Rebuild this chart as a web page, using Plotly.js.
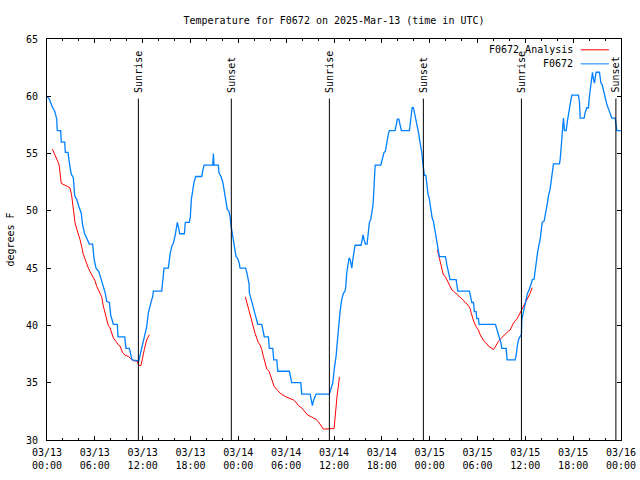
<!DOCTYPE html>
<html>
<head>
<meta charset="utf-8">
<script src="https://cdn.plot.ly/plotly-3.0.1.min.js"></script>
<style>html,body{margin:0;padding:0;background:#fff;}#chart{width:640px;height:480px;}</style>
</head>
<body>
<div id="chart"></div>
<script>
// Hours since 2025-03-13 00:00 UTC
var blueH = [0,0.29,0.72,0.97,1.22,1.29,1.72,1.79,2.22,2.30,2.63,2.72,2.89,3.05,3.30,3.48,3.73,3.98,4.30,4.48,4.73,4.98,5.31,5.73,5.90,6.15,6.49,6.81,7.06,7.31,7.49,7.82,7.99,8.32,8.82,8.91,9.75,9.91,10.33,10.58,10.66,11.51,11.67,12.08,12.30,12.51,12.71,12.92,13.14,13.26,13.34,14.39,14.52,14.68,15.22,15.31,15.43,15.65,15.85,16.06,16.27,16.35,16.52,16.65,17.23,17.35,17.85,17.98,18.11,18.28,18.44,18.66,19.41,19.54,19.70,20.79,20.87,20.95,21.49,21.58,21.83,22.05,22.21,22.46,22.62,22.80,22.96,23.09,23.25,23.38,23.59,23.71,23.88,24.09,24.22,24.93,25.13,25.26,25.35,25.38,25.56,25.72,25.88,26.10,26.31,26.44,26.94,27.06,27.26,27.77,27.89,28.32,28.44,28.82,28.95,30.40,30.58,30.70,31.83,31.96,33.00,33.16,33.29,33.41,33.75,35.42,35.63,35.85,36.05,36.26,36.42,36.60,36.76,36.98,37.18,37.39,37.48,37.60,37.77,37.89,38.02,38.11,38.23,38.36,38.52,38.64,39.40,39.52,39.65,39.77,39.94,40.15,40.31,40.44,40.61,40.74,40.87,40.94,41.07,41.16,41.87,42.00,42.12,42.28,42.45,42.53,42.70,42.82,42.95,43.66,43.79,43.95,44.13,44.20,44.38,44.45,45.46,45.58,45.71,45.80,45.96,46.09,46.21,46.39,46.51,46.64,46.76,46.89,47.01,47.14,47.21,47.34,47.52,47.59,47.68,47.80,47.93,48.06,48.18,48.31,48.47,48.65,48.81,48.97,49.10,49.22,49.40,49.98,50.15,50.31,50.48,50.56,51.32,51.44,51.53,52.99,53.16,53.29,53.49,53.61,53.83,53.91,54.12,54.20,56.25,56.42,56.59,56.75,56.93,57.05,57.59,57.72,58.72,58.85,58.97,59.14,59.31,59.51,59.56,59.76,59.89,60.06,60.26,60.48,60.69,60.89,61.10,61.23,61.36,61.52,61.64,61.86,61.98,62.11,62.36,62.48,62.61,62.77,62.90,63.11,63.24,63.36,63.53,64.28,64.37,64.49,64.58,64.71,64.78,64.91,65.12,65.28,65.41,65.62,65.83,66.66,66.79,66.88,67.38,67.50,67.72,67.92,68.04,68.22,68.42,68.54,68.67,68.76,68.88,69.30,69.47,69.64,69.80,70.01,70.22,70.43,70.64,70.85,71.27,71.39,71.48,72.0];
var blueT = [60.0,59.75,59.0,58.7,58.0,57.0,57.0,56.0,56.0,55.1,55.1,54.5,53.8,53.2,52.9,51.3,51.0,50.4,49.8,48.7,48.0,47.6,47.1,47.1,45.8,45.0,44.7,44.0,43.4,42.8,42.1,42.0,40.9,40.1,40.1,39.0,39.0,38.0,38.0,37.3,37.0,36.9,37.4,38.8,39.2,39.9,41.1,41.8,42.25,42.5,43.0,43.0,44.0,45.0,45.0,45.5,46.2,46.9,47.2,47.8,48.7,49.0,48.5,48.0,48.0,49.0,49.0,49.5,51.0,51.7,52.5,53.0,53.0,53.5,54.0,54.0,55.0,54.0,54.0,53.3,53.0,52.5,51.7,50.7,50.1,50.0,49.5,48.7,47.9,47.2,46.5,46.0,45.9,45.5,45.0,45.0,44.4,44.0,43.6,42.85,42.4,42.0,41.5,41.1,40.5,40.1,40.1,39.6,39.0,39.0,38.0,38.0,37.0,37.0,36.0,36.0,35.5,35.0,35.0,34.0,34.0,33.5,33.0,33.4,34.0,34.0,34.5,35.0,36.3,37.3,38.6,40.4,41.2,42.3,42.8,43.0,43.4,44.6,45.3,45.9,45.75,45.3,45.0,45.75,46.3,47.0,47.0,47.4,47.9,47.5,47.1,47.1,48.4,49.0,49.25,49.7,50.4,51.0,53.0,54.0,54.0,54.4,54.85,55.1,55.2,55.7,56.25,56.7,57.0,57.0,57.4,58.0,58.0,57.7,57.3,57.0,57.0,57.7,58.6,59.0,59.0,58.6,58.0,57.6,57.1,56.7,56.1,55.7,55.1,54.2,53.6,53.1,53.1,52.6,51.9,51.4,51.15,50.6,49.8,49.4,49.1,48.4,47.8,47.2,46.8,46.0,46.0,46.0,45.3,44.7,44.4,44.0,44.0,43.5,43.0,43.0,42.5,42.0,42.0,41.2,41.2,40.6,40.6,40.1,40.1,39.6,39.3,38.9,38.5,38.0,38.0,37.0,37.0,37.4,38.1,38.75,39.0,39.2,40.5,41.1,41.7,42.25,42.8,43.1,43.7,44.0,44.05,44.9,45.6,46.3,46.8,47.5,48.2,49.0,49.1,49.5,50.0,50.7,51.3,51.9,52.6,53.2,54.1,54.1,54.5,55.5,56.5,57.6,58.1,57.0,57.0,57.85,58.6,59.3,60.1,60.1,59.5,58.1,58.1,58.6,59.0,59.0,60.0,61.0,62.1,61.5,61.15,61.6,62.1,62.1,61.2,61.0,60.5,59.9,59.3,58.9,58.4,58.1,58.1,57.6,57.0,57.0];

var red1H = [0.67,0.88,1.13,1.42,1.54,1.72,1.79,2.67,2.89,3.10,3.30,3.51,3.73,3.93,4.14,4.35,4.55,4.77,4.98,5.18,5.40,5.61,5.81,6.02,6.24,6.44,6.65,6.86,7.06,7.28,7.49,7.69,7.90,8.12,8.32,8.66,8.95,9.16,9.50,9.79,10.20,10.50,10.92,11.25,11.58,11.79,12.01,12.21,12.51,12.84];
var red1T = [55.4,55.1,54.6,54.2,53.9,53.0,52.4,52.1,52.0,51.3,50.3,49.0,48.4,48.0,47.5,46.9,46.2,45.8,45.3,45.0,44.7,44.4,44.2,43.9,43.4,43.1,42.8,42.5,41.7,41.1,40.6,40.0,39.8,39.3,38.9,38.6,38.3,38.2,37.6,37.4,37.3,37.1,36.9,36.9,36.5,36.5,37.1,37.9,38.75,39.2];
var red2H = [24.88,25.06,25.26,25.47,25.68,25.88,26.10,26.31,26.51,26.73,26.94,27.14,27.35,27.57,27.85,28.07,28.27,28.48,28.82,29.23,29.86,30.49,30.90,31.24,31.53,31.96,32.37,32.66,33.21,33.75,34.04,34.34,34.67,36.01,36.14,36.26,36.39,36.55,36.68];
var red2T = [42.5,42.0,41.4,40.8,40.4,39.9,39.3,38.9,38.5,38.3,37.9,37.3,36.7,36.2,36.0,35.5,35.1,34.7,34.4,34.1,33.8,33.65,33.5,33.3,33.0,32.8,32.5,32.2,32.0,31.8,31.6,31.3,30.95,31.0,32.1,32.9,33.9,34.7,35.5];
var red3H = [48.97,49.10,49.22,49.40,49.56,49.72,49.94,50.15,50.35,50.56,50.78,50.98,51.32,51.61,51.82,52.03,52.23,52.45,52.66,52.86,53.07,53.20,53.41,53.61,53.91,54.12,54.33,54.54,54.74,54.96,55.17,55.37,55.58,55.80,56.00,56.21,56.42,56.62,56.84,57.05,57.25,57.47,57.68,57.88,58.09,58.31,58.51,58.72,58.93,59.13,59.35,59.56,59.76,59.97,60.19,60.39,60.60,60.85];
var red3T = [46.6,46.2,45.75,45.2,44.6,44.4,44.3,44.0,43.6,43.3,43.1,43.0,42.8,42.6,42.5,42.4,42.2,42.0,41.9,41.7,41.5,41.1,40.6,40.2,39.8,39.6,39.2,38.9,38.7,38.5,38.4,38.2,38.1,37.95,37.9,38.1,38.4,38.6,38.8,38.95,39.1,39.3,39.4,39.5,39.6,40.0,40.2,40.4,40.55,40.8,41.1,41.4,41.7,42.0,42.25,42.5,42.8,43.3];

var sunriseH = [11.46, 35.42, 59.51];
var sunsetH = [23.12, 47.21, 71.36];

var tickHours = [0,6,12,18,24,30,36,42,48,54,60,66,72];
var tickLabels = ["03/13<br>00:00","03/13<br>06:00","03/13<br>12:00","03/13<br>18:00","03/14<br>00:00","03/14<br>06:00","03/14<br>12:00","03/14<br>18:00","03/15<br>00:00","03/15<br>06:00","03/15<br>12:00","03/15<br>18:00","03/16<br>00:00"];

var FONT = "DejaVu Sans Mono, Liberation Mono, monospace";
var redX = red1H.concat([null], red2H, [null], red3H);
var redY = red1T.concat([null], red2T, [null], red3T);

var traces = [
  {x: redX, y: redY, mode: 'lines', line: {color: '#ff0000', width: 1}, name: 'F0672_Analysis', connectgaps: false},
  {x: blueH, y: blueT, mode: 'lines', line: {color: '#0080ff', width: 1.3}, name: 'F0672'}
];

var shapes = [];
var annotations = [];
function addMarker(h, label) {
  shapes.push({type: 'line', xref: 'x', yref: 'y', x0: h, x1: h, y0: 30, y1: 59.8, line: {color: '#000', width: 1}});
  annotations.push({xref: 'x', yref: 'y', x: h, y: 60.15, text: label, textangle: -90, showarrow: false,
    xanchor: 'center', yanchor: 'bottom', font: {family: FONT, size: 10, color: '#000'}});
}
sunriseH.forEach(function (h) { addMarker(h, 'Sunrise'); });
sunsetH.forEach(function (h) { addMarker(h, 'Sunset'); });

// legend (text left of sample line, as in the reference)
var legendItems = [{name: 'F0672_Analysis', color: '#ff0000', y: 0.973}, {name: 'F0672', color: '#0080ff', y: 0.938}];
legendItems.forEach(function (it) {
  annotations.push({xref: 'paper', yref: 'paper', x: 0.919, y: it.y, text: it.name, showarrow: false,
    xanchor: 'right', yanchor: 'middle', font: {family: FONT, size: 10, color: '#000'}});
  shapes.push({type: 'line', xref: 'paper', yref: 'paper', x0: 0.930, x1: 0.979, y0: it.y, y1: it.y,
    line: {color: it.color, width: 1}});
});

var layout = {
  width: 640, height: 480,
  margin: {l: 47, r: 19, t: 39, b: 40},
  paper_bgcolor: '#fff', plot_bgcolor: '#fff',
  showlegend: false,
  font: {family: FONT, size: 10, color: '#000'},
  title: {text: 'Temperature for F0672 on 2025-Mar-13 (time in UTC)', x: 0.5, xref: 'paper', y: 0.958, yref: 'container', yanchor: 'middle',
    font: {family: FONT, size: 10, color: '#000'}},
  xaxis: {range: [0, 72], tickmode: 'array', tickvals: tickHours, ticktext: tickLabels,
    ticks: 'inside', ticklen: 4, tickcolor: '#000', showline: true, linecolor: '#000', linewidth: 1, mirror: 'allticks',
    showgrid: false, zeroline: false, ticklabelstandoff: 3,
    minor: {tickmode: 'linear', tick0: 0, dtick: 2, ticks: 'inside', ticklen: 2, tickcolor: '#000', showgrid: false},
    tickfont: {family: FONT, size: 10, color: '#000'}},
  yaxis: {range: [30, 65], tickmode: 'linear', tick0: 30, dtick: 5, ticksuffix: '\u00a0',
    ticks: 'inside', ticklen: 4, tickcolor: '#000', showline: true, linecolor: '#000', linewidth: 1, mirror: 'allticks',
    showgrid: false, zeroline: false,
    title: {text: 'degrees F', standoff: 9, font: {family: FONT, size: 10, color: '#000'}},
    tickfont: {family: FONT, size: 10, color: '#000'}},
  shapes: shapes,
  annotations: annotations
};

Plotly.newPlot('chart', traces, layout, {staticPlot: true, displayModeBar: false});
</script>
</body>
</html>
